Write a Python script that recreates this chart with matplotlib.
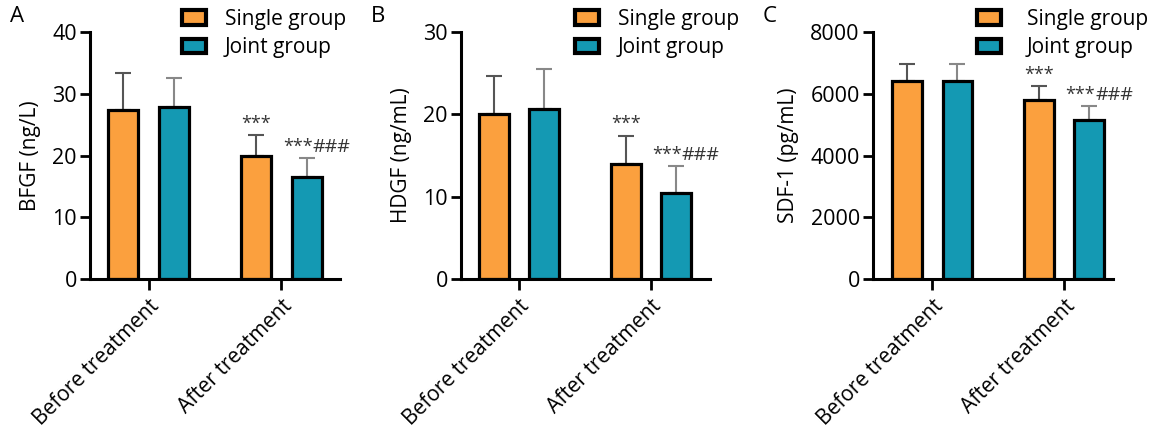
import numpy as np
import matplotlib.pyplot as plt

plt.rcParams['font.family'] = ['Open Sans', 'DejaVu Sans']

categories = ['Before treatment', 'After treatment']
groups = ['Single group', 'Joint group']

bfgf_mean = {'Single group': [27.4, 19.9], 'Joint group': [27.9, 16.5]}
bfgf_err = {'Single group': [6.0, 3.4], 'Joint group': [4.7, 3.1]}
hdgf_mean = {'Single group': [20.1, 14.0], 'Joint group': [20.7, 10.5]}
hdgf_err = {'Single group': [4.5, 3.4], 'Joint group': [4.8, 3.2]}
sdf_mean = {'Single group': [6400, 5790], 'Joint group': [6400, 5140]}
sdf_err = {'Single group': [560, 450], 'Joint group': [560, 450]}

colors = {'Single group': '#FBA03E', 'Joint group': '#1499B3'}
err_colors = {'Single group': '#555555', 'Joint group': '#888888'}

# letter, letter x px, ylabel, means, errs, ymax, step, axis px extent, xlim, legend x px, legend text pad
panels = [
    ('A', 10, 'BFGF (ng/L)', bfgf_mean, bfgf_err, 40, 10, [90, 340], (-0.44, 1.44), 182, 0.9),
    ('B', 371, 'HDGF (ng/mL)', hdgf_mean, hdgf_err, 30, 10, [461, 710], (-0.44, 1.45), 575, 0.9),
    ('C', 763, 'SDF-1 (pg/mL)', sdf_mean, sdf_err, 8000, 2000, [873, 1113], (-0.45, 1.37), 977, 1.25),
]

W, H = 1156, 428
fig = plt.figure(figsize=(W / 100, H / 100), dpi=100)

x = np.arange(len(categories))
offset = 0.19
width = 0.225

for letter, letx, ylabel, means, errs, ymax, ystep, px, xlim, legx, tpad in panels:
    ax = fig.add_axes([px[0] / W, 1 - 279 / H, (px[1] - px[0]) / W, (279 - 32) / H])
    handles = []
    for i, g in enumerate(groups):
        pos = x + (-offset if i == 0 else offset)
        ax.errorbar(pos, means[g], yerr=[np.zeros(2), errs[g]], fmt='none',
                    ecolor=err_colors[g], elinewidth=1.5, capsize=6, capthick=1.5, zorder=1)
        b = ax.bar(pos, means[g], width, color=colors[g], edgecolor='black',
                   linewidth=2.3, zorder=2, label=g)
        handles.append(b)
    # significance marks
    top_s = means['Single group'][1] + errs['Single group'][1]
    top_j = means['Joint group'][1] + errs['Joint group'][1]
    ax.text(x[1] - offset, top_s + ymax * 0.01, '***', ha='center', va='bottom',
            fontsize=13, color='#333333')
    ax.text(x[1] + offset + 0.045, top_j + ymax * 0.01, '***', ha='right', va='bottom',
            fontsize=13, color='#333333')
    ax.text(x[1] + offset + 0.045, top_j + ymax * 0.01, '###', ha='left', va='bottom',
            fontsize=14, color='#333333')
    ax.set_xlim(*xlim)
    ax.set_ylim(0, ymax)
    ax.set_yticks(np.arange(0, ymax + 1, ystep))
    ax.set_xticks(x)
    ax.set_xticklabels(categories, rotation=45, ha='right', rotation_mode='anchor', fontsize=15)
    ax.tick_params(axis='y', labelsize=15.5, width=2, length=7.5, pad=2)
    ax.tick_params(axis='x', width=2, length=8, pad=4)
    ax.spines['top'].set_visible(False)
    ax.spines['right'].set_visible(False)
    ax.spines['left'].set_linewidth(2.2)
    ax.spines['bottom'].set_linewidth(2.2)
    ax.set_ylabel(ylabel, fontsize=15, labelpad=8)
    leg = ax.legend(handles=handles, loc='upper left', bbox_to_anchor=(legx / W, 1 - 9 / H),
                    bbox_transform=fig.transFigure, borderaxespad=0, borderpad=0,
                    frameon=False, fontsize=15, handlelength=1.15, handleheight=0.7,
                    handletextpad=tpad, labelspacing=0.35)
    for hp in leg.legend_handles:
        hp.set_linewidth(3)
    fig.text(letx / W, 1 - 17 / H, letter, fontsize=16, va='center')

fig.savefig('out.png', dpi=100)
